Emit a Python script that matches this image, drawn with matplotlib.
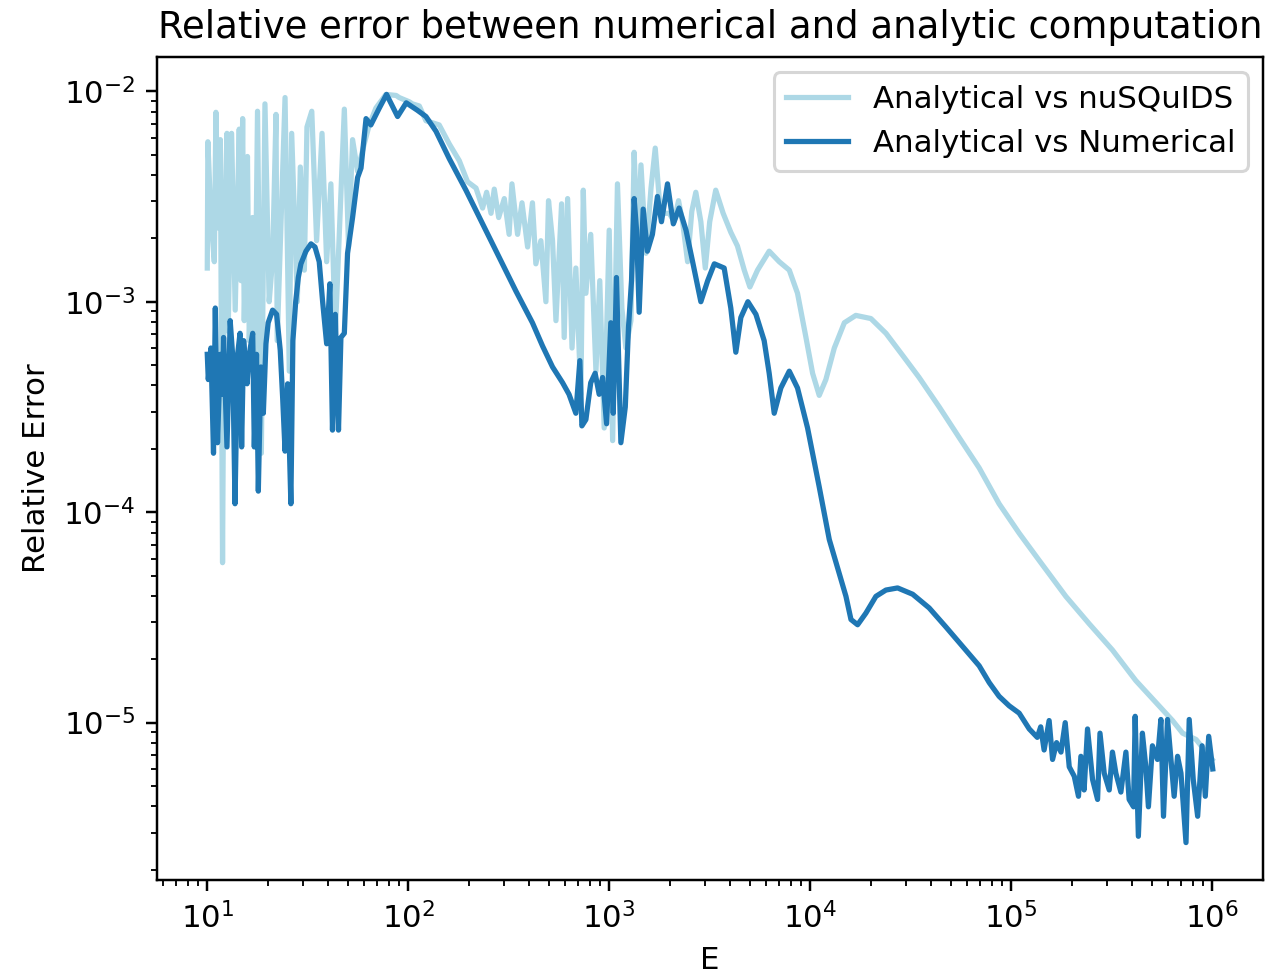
import numpy as np
import matplotlib
matplotlib.use("Agg")
import matplotlib.pyplot as plt

# values, stored as log10(E) and log10(relative error)
nusquids_logE = [
    1.000, 1.003, 1.018, 1.035, 1.043, 1.055, 1.065, 1.076, 1.085, 1.098,
    1.104, 1.121, 1.139, 1.159, 1.168, 1.176, 1.184, 1.200, 1.209, 1.225,
    1.234, 1.250, 1.269, 1.287, 1.308, 1.325, 1.342, 1.348, 1.387, 1.408,
    1.420, 1.448, 1.463, 1.483, 1.496, 1.520, 1.544, 1.571, 1.594, 1.615,
    1.637, 1.682, 1.703, 1.723, 1.748, 1.781, 1.806, 1.839, 1.889, 1.940,
    1.955, 2.005, 2.021, 2.055, 2.088, 2.154, 2.204, 2.254, 2.295, 2.337,
    2.370, 2.390, 2.412, 2.428, 2.450, 2.478, 2.502, 2.516, 2.544, 2.566,
    2.594, 2.618, 2.635, 2.660, 2.685, 2.698, 2.718, 2.735, 2.763, 2.776,
    2.793, 2.815, 2.834, 2.859, 2.871, 2.884, 2.908, 2.934, 2.953, 2.975,
    3.000, 3.017, 3.041, 3.063, 3.083, 3.108, 3.124, 3.141, 3.158, 3.183,
    3.208, 3.229, 3.249, 3.274, 3.299, 3.323, 3.345, 3.365, 3.390, 3.411,
    3.431, 3.456, 3.478, 3.500, 3.530, 3.567, 3.605, 3.638, 3.672, 3.700,
    3.738, 3.796, 3.846, 3.896, 3.937, 3.979, 4.012, 4.045, 4.078, 4.120,
    4.170, 4.227, 4.302, 4.377, 4.460, 4.542, 4.642, 4.741, 4.841, 4.940,
    5.040, 5.140, 5.272, 5.388, 5.504, 5.620, 5.736, 5.803, 5.853, 5.920,
    6.000,
]
nusquids_logerr = [
    -2.84, -2.24, -2.60, -2.81, -2.10, -2.65, -2.23, -4.24, -2.70, -2.20,
    -3.14, -2.20, -3.04, -2.18, -2.90, -2.13, -3.09, -2.31, -3.185, -2.60,
    -3.47, -2.095, -3.72, -2.06, -3.00, -2.80, -2.11, -3.185, -2.03, -3.33,
    -2.20, -3.00, -2.36, -2.85, -2.17, -2.095, -2.71, -2.20, -2.81, -2.44,
    -3.15, -2.085, -2.74, -2.23, -2.38, -2.25, -2.16, -2.08, -2.015, -2.02,
    -2.03, -2.05, -2.06, -2.07, -2.14, -2.16, -2.25, -2.33, -2.43, -2.46,
    -2.555, -2.48, -2.58, -2.465, -2.60, -2.51, -2.68, -2.44, -2.68, -2.53,
    -2.74, -2.53, -2.82, -2.71, -3.00, -2.52, -2.71, -3.09, -2.535, -3.17,
    -2.51, -3.22, -2.84, -3.44, -2.47, -2.96, -2.68, -3.33, -2.90, -3.60,
    -2.66, -3.66, -2.44, -3.03, -3.22, -3.09, -2.29, -2.74, -2.35, -2.77,
    -2.46, -2.27, -2.51, -2.58, -2.58, -2.62, -2.52, -2.62, -2.81, -2.57,
    -2.48, -2.62, -2.84, -2.62, -2.47, -2.58, -2.67, -2.735, -2.85, -2.93,
    -2.85, -2.76, -2.81, -2.85, -2.96, -3.17, -3.34, -3.445, -3.37, -3.22,
    -3.10, -3.065, -3.08, -3.15, -3.255, -3.36, -3.50, -3.645, -3.79, -3.96,
    -4.10, -4.23, -4.40, -4.53, -4.655, -4.80, -4.92, -4.99, -5.05, -5.08,
    -5.175,
]

numerical_logE = [
    1.000, 1.005, 1.018, 1.031, 1.040, 1.051, 1.065, 1.076, 1.081, 1.098,
    1.114, 1.126, 1.138, 1.151, 1.163, 1.171, 1.181, 1.198, 1.209, 1.226,
    1.234, 1.245, 1.254, 1.267, 1.279, 1.292, 1.303, 1.325, 1.345, 1.363,
    1.375, 1.387, 1.400, 1.416, 1.426, 1.440, 1.453, 1.466, 1.491, 1.516,
    1.536, 1.557, 1.574, 1.594, 1.610, 1.623, 1.637, 1.653, 1.665, 1.682,
    1.698, 1.723, 1.748, 1.765, 1.790, 1.814, 1.856, 1.892, 1.947, 1.990,
    2.045, 2.088, 2.138, 2.204, 2.287, 2.370, 2.453, 2.536, 2.618, 2.668,
    2.718, 2.768, 2.800, 2.834, 2.854, 2.864, 2.884, 2.908, 2.930, 2.950,
    2.967, 2.987, 3.008, 3.020, 3.036, 3.058, 3.080, 3.096, 3.111, 3.124,
    3.136, 3.149, 3.169, 3.190, 3.215, 3.240, 3.260, 3.290, 3.319, 3.348,
    3.382, 3.415, 3.456, 3.490, 3.523, 3.572, 3.605, 3.630, 3.655, 3.690,
    3.730, 3.771, 3.796, 3.821, 3.854, 3.896, 3.937, 3.987, 4.045, 4.095,
    4.144, 4.178, 4.203, 4.236, 4.277, 4.327, 4.377, 4.435, 4.510, 4.592,
    4.675, 4.774, 4.841, 4.891, 4.940, 4.990, 5.040, 5.090, 5.130, 5.147,
    5.164, 5.189, 5.206, 5.226, 5.248, 5.269, 5.289, 5.314, 5.335, 5.347,
    5.363, 5.380, 5.405, 5.430, 5.442, 5.463, 5.488, 5.504, 5.521, 5.546,
    5.571, 5.587, 5.609, 5.617, 5.633, 5.653, 5.670, 5.683, 5.703, 5.728,
    5.745, 5.758, 5.778, 5.795, 5.811, 5.828, 5.845, 5.870, 5.886, 5.906,
    5.928, 5.950, 5.966, 5.983, 6.003,
]
numerical_logerr = [
    -3.25, -3.37, -3.22, -3.72, -3.03, -3.67, -3.25, -3.44, -3.17, -3.69,
    -3.09, -3.25, -3.96, -3.25, -3.15, -3.69, -3.185, -3.39, -3.25, -3.15,
    -3.69, -3.25, -3.90, -3.31, -3.53, -3.20, -3.10, -3.04, -3.06, -3.23,
    -3.455, -3.71, -3.39, -3.96, -3.185, -3.00, -2.885, -2.82, -2.76, -2.725,
    -2.74, -2.81, -3.00, -3.20, -2.915, -3.61, -3.06, -3.61, -3.17, -3.15,
    -2.77, -2.60, -2.41, -2.365, -2.13, -2.16, -2.08, -2.015, -2.12, -2.055,
    -2.09, -2.12, -2.19, -2.32, -2.47, -2.63, -2.79, -2.95, -3.10, -3.21,
    -3.31, -3.385, -3.44, -3.53, -3.28, -3.59, -3.56, -3.385, -3.34, -3.44,
    -3.36, -3.58, -3.10, -3.53, -2.885, -3.67, -3.50, -3.12, -2.90, -2.51,
    -2.66, -3.05, -2.56, -2.76, -2.68, -2.50, -2.62, -2.44, -2.63, -2.555,
    -2.66, -2.81, -3.00, -2.90, -2.82, -2.84, -3.03, -3.24, -3.075, -3.00,
    -3.06, -3.185, -3.34, -3.53, -3.41, -3.33, -3.41, -3.60, -3.88, -4.13,
    -4.29, -4.40, -4.51, -4.535, -4.48, -4.40, -4.37, -4.36, -4.39, -4.455,
    -4.545, -4.655, -4.73, -4.81, -4.875, -4.92, -4.955, -5.03, -5.07, -5.02,
    -5.13, -4.99, -5.175, -5.095, -5.14, -5.00, -5.21, -5.255, -5.35, -5.16,
    -5.32, -5.03, -5.27, -5.365, -5.05, -5.24, -5.32, -5.14, -5.24, -5.33,
    -5.14, -5.365, -5.40, -4.97, -5.54, -5.05, -5.21, -5.40, -5.11, -5.175,
    -4.985, -5.445, -4.985, -5.175, -5.35, -5.16, -5.24, -5.57, -4.985, -5.27,
    -5.445, -5.11, -5.35, -5.065, -5.22,
]

E_nusquids = 10 ** np.array(nusquids_logE)
err_nusquids = 10 ** np.array(nusquids_logerr)
E_numerical = 10 ** np.array(numerical_logE)
err_numerical = 10 ** np.array(numerical_logerr)

DPI = 222
fig = plt.figure(figsize=(1268 / DPI, 973 / DPI), dpi=DPI)
ax = fig.add_axes([157 / 1268, 1 - 880 / 973, 1106 / 1268, 823 / 973])

ax.plot(E_nusquids, err_nusquids, color='lightblue', lw=1.7, label='Analytical vs nuSQuIDS')
ax.plot(E_numerical, err_numerical, color='#1f77b4', lw=1.7, label='Analytical vs Numerical')
ax.set_xscale('log')
ax.set_yscale('log')

ax.set_title('Relative error between numerical and analytic computation')
ax.set_xlabel('E')
ax.set_ylabel('Relative Error')
ax.legend(loc='upper right')

fig.savefig('out.png', dpi=DPI)
